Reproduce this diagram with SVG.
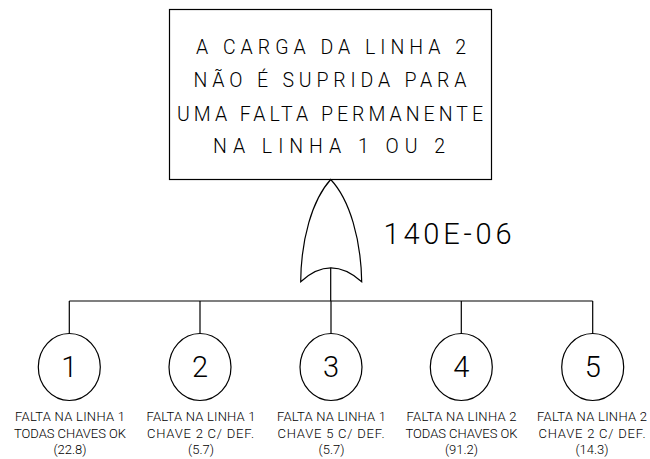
<svg xmlns="http://www.w3.org/2000/svg" width="650" height="459" viewBox="0 0 650 459">
<style>
.ln{fill:none;stroke:#000;stroke-width:1.2}
.t{font-family:Roboto,"Liberation Sans",Arial,sans-serif;font-weight:300;fill:#000;text-anchor:middle}
.top{font-size:19.5px}
.num{font-size:29px}
.lab{font-size:13px}
</style>
<rect width="650" height="459" fill="#fff"/>
<g id="top-event">
<rect class="ln" x="169.5" y="9.5" width="322" height="170"/>
<text class="t top" x="331" y="54" textLength="270" lengthAdjust="spacing">A CARGA DA LINHA 2</text>
<text class="t top" x="330" y="87" textLength="273" lengthAdjust="spacing">NÃO É SUPRIDA PARA</text>
<text class="t top" x="330" y="120.5" textLength="306" lengthAdjust="spacing">UMA FALTA PERMANENTE</text>
<text class="t top" x="329" y="153" textLength="232" lengthAdjust="spacing">NA LINHA 1 OU 2</text>
</g>
<g id="or-gate">
<path class="ln" d="M330.7,179.5 C312,200 301,240 300.7,281.7 Q330.7,254 361.7,281.7 C361,240 350,200 330.7,179.5 Z"/>
<text class="t num" x="447.5" y="244" textLength="128" lengthAdjust="spacing">140E-06</text>
</g>
<g id="connectors">
<path class="ln" d="M330.7,267.7 V301 M69.3,301 H592.7 M69.3,301 V333.5 M200,301 V333.5 M331,301 V333.5 M461.3,301 V333.5 M592.7,301 V333.5"/>
</g>
<g id="event-1">
<ellipse class="ln" cx="69.3" cy="367" rx="31" ry="33.5"/>
<text class="t num" x="69.3" y="377">1</text>
<text class="t lab" x="70" y="420.5" textLength="110" lengthAdjust="spacing">FALTA NA LINHA 1</text>
<text class="t lab" x="70" y="437.5" textLength="112" lengthAdjust="spacing">TODAS CHAVES OK</text>
<text class="t lab" x="70" y="453.5">(22.8)</text>
</g>
<g id="event-2">
<ellipse class="ln" cx="200" cy="367" rx="31" ry="33.5"/>
<text class="t num" x="200" y="377">2</text>
<text class="t lab" x="201" y="420.5" textLength="109" lengthAdjust="spacing">FALTA NA LINHA 1</text>
<text class="t lab" x="200.5" y="437.5" textLength="107" lengthAdjust="spacing">CHAVE 2 C/ DEF.</text>
<text class="t lab" x="201" y="453.5">(5.7)</text>
</g>
<g id="event-3">
<ellipse class="ln" cx="331" cy="367" rx="31" ry="33.5"/>
<text class="t num" x="331" y="377">3</text>
<text class="t lab" x="331.5" y="420.5" textLength="109" lengthAdjust="spacing">FALTA NA LINHA 1</text>
<text class="t lab" x="331" y="437.5" textLength="107" lengthAdjust="spacing">CHAVE 5 C/ DEF.</text>
<text class="t lab" x="331.5" y="453.5">(5.7)</text>
</g>
<g id="event-4">
<ellipse class="ln" cx="461.3" cy="367" rx="31" ry="33.5"/>
<text class="t num" x="461.3" y="377">4</text>
<text class="t lab" x="461.5" y="420.5" textLength="110" lengthAdjust="spacing">FALTA NA LINHA 2</text>
<text class="t lab" x="461.5" y="437.5" textLength="112" lengthAdjust="spacing">TODAS CHAVES OK</text>
<text class="t lab" x="461.5" y="453.5">(91.2)</text>
</g>
<g id="event-5">
<ellipse class="ln" cx="592.7" cy="367" rx="31" ry="33.5"/>
<text class="t num" x="592.7" y="377">5</text>
<text class="t lab" x="592" y="420.5" textLength="110" lengthAdjust="spacing">FALTA NA LINHA 2</text>
<text class="t lab" x="592" y="437.5" textLength="107" lengthAdjust="spacing">CHAVE 2 C/ DEF.</text>
<text class="t lab" x="592" y="453.5">(14.3)</text>
</g>
</svg>
